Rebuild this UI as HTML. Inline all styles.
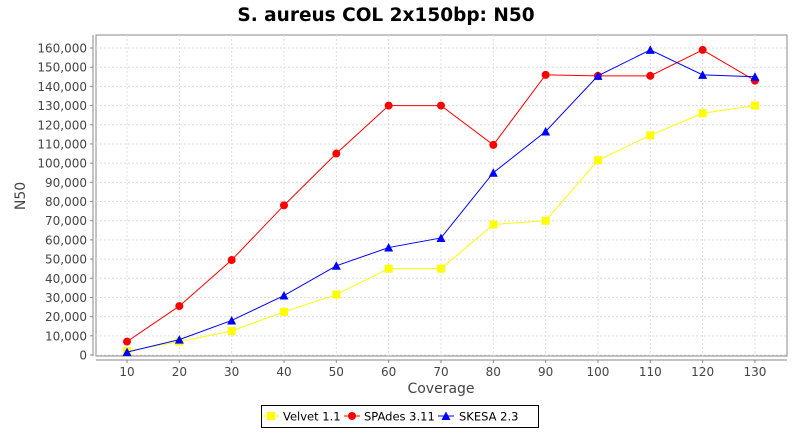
<!DOCTYPE html>
<html><head><meta charset="utf-8"><style>
body{margin:0;background:#fff;width:800px;height:430px;overflow:hidden}
svg text{font-family:"DejaVu Sans","Liberation Sans",sans-serif}
</style></head><body>
<svg id="s" width="800" height="430" xmlns="http://www.w3.org/2000/svg">
<rect width="800" height="430" fill="#fff"/>
<text x="386" y="21" text-anchor="middle" font-size="18.5" font-weight="bold" fill="#000">S. aureus COL 2x150bp: N50</text>
<rect x="96" y="35" width="691" height="321" fill="#fff" stroke="#888" stroke-width="1"/>
<g id="g"></g>
<text x="441" y="393" text-anchor="middle" font-size="14" fill="#444">Coverage</text>
<text transform="translate(25,196) rotate(-90)" text-anchor="middle" font-size="14" fill="#444">N50</text>
<rect x="261.5" y="405.5" width="277" height="22" fill="#fff" stroke="#000"/>
<rect x="267" y="412" width="8" height="8" fill="#ff0"/><line x1="263" y1="416" x2="279" y2="416" stroke="#ff0"/>
<text x="283" y="420.5" font-size="11.5" fill="#000">Velvet 1.1</text>
<line x1="344" y1="416" x2="360" y2="416" stroke="#f00"/><circle cx="352" cy="416" r="4" fill="#f00"/>
<text x="364" y="420.5" font-size="11.5" fill="#000">SPAdes 3.11</text>
<line x1="438" y1="416" x2="454" y2="416" stroke="#00f"/><polygon points="446,411.5 450.5,420 441.5,420" fill="#00f"/>
<text x="459" y="420.5" font-size="11.5" fill="#000">SKESA 2.3</text>
</svg>
<script>
var g=document.getElementById('g'),h='';
function X(c){return 127+(c-10)*5.233;}
function Y(v){return 355-v*307/160000;}
for(var i=0;i<=16;i++){var y=Y(i*10000);
 h+='<line x1="96" x2="787" y1="'+y+'" y2="'+y+'" stroke="#ddd" stroke-dasharray="2,2"/>';
 h+='<line x1="90" x2="93" y1="'+y+'" y2="'+y+'" stroke="#888"/>';
 h+='<text x="87" y="'+(y+4.5)+'" text-anchor="end" font-size="12" fill="#444">'+(i?(i*10)+',000':'0')+'</text>';}
for(var c=10;c<=130;c+=10){var x=X(c);
 h+='<line y1="35" y2="356" x1="'+x+'" x2="'+x+'" stroke="#ddd" stroke-dasharray="2,2"/>';
 h+='<line y1="360" y2="363" x1="'+x+'" x2="'+x+'" stroke="#888"/>';
 h+='<text x="'+x+'" y="376" text-anchor="middle" font-size="12" fill="#444">'+c+'</text>';}
h+='<line x1="93" x2="93" y1="35" y2="356" stroke="#888"/><line x1="96" x2="787" y1="360" y2="360" stroke="#888"/>';
var V=[2000,7000,12500,22500,31500,45000,45000,68000,70000,101500,114500,126000,130000];
var S=[7000,25500,49500,78000,105000,130000,130000,109500,146000,145500,145500,159000,143000];
var K=[1500,8000,18000,31000,46500,56000,61000,95000,116500,145500,159000,146000,145000];
function ser(d,col,m){var p=d.map(function(v,i){return X(10+i*10)+','+Y(v)}).join(' ');
 h+='<polyline points="'+p+'" fill="none" stroke="'+col+'"/>';
 d.forEach(function(v,i){var x=X(10+i*10),y=Y(v);
  if(m==0)h+='<rect x="'+(x-4)+'" y="'+(y-4)+'" width="8" height="8" fill="'+col+'"/>';
  else if(m==1)h+='<circle cx="'+x+'" cy="'+y+'" r="4" fill="'+col+'"/>';
  else h+='<polygon points="'+x+','+(y-4.5)+' '+(x+4.5)+','+(y+4)+' '+(x-4.5)+','+(y+4)+'" fill="'+col+'"/>';});}
ser(V,'#ff0',0);ser(S,'#f00',1);ser(K,'#00f',2);
g.innerHTML=h;
</script>
</body></html>
